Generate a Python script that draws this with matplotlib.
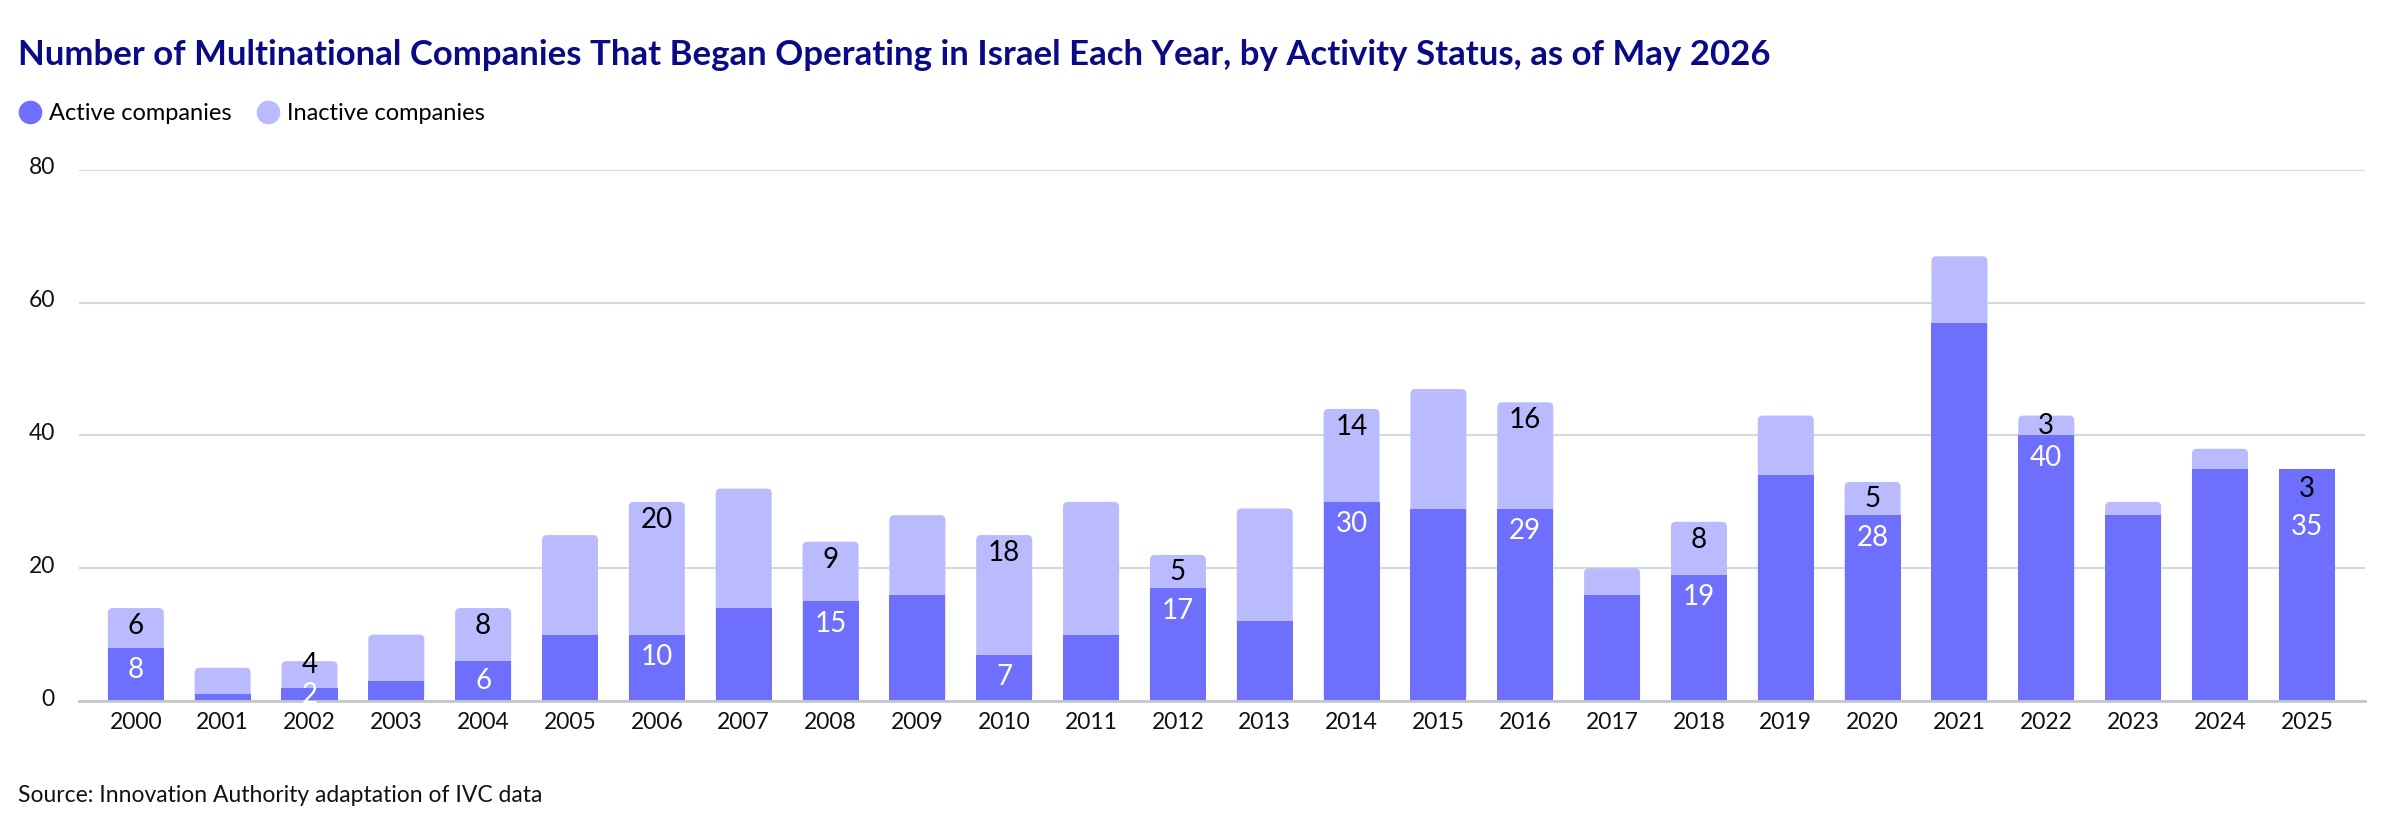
import matplotlib
matplotlib.use("Agg")
import matplotlib.pyplot as plt
from matplotlib.lines import Line2D
from matplotlib.patches import FancyBboxPatch
import matplotlib.transforms as mtransforms

years = [str(y) for y in range(2000, 2026)]
active = [8, 1, 2, 3, 6, 10, 10, 14, 15, 16, 7, 10, 17, 12, 30, 29, 29, 16, 19, 34, 28, 57, 40, 28, 35, 35]
inactive = [6, 4, 4, 7, 8, 15, 20, 18, 9, 12, 18, 20, 5, 17, 14, 18, 16, 4, 8, 9, 5, 10, 3, 2, 3, 0]
# displayed data labels (None = no label shown)
active_labels = ["8", None, "2", None, "6", None, "10", None, "15", None, "7", None, "17", None,
                 "30", None, "29", None, "19", None, "28", None, "40", None, None, "35"]
inactive_labels = ["6", None, "4", None, "8", None, "20", None, "9", None, "18", None, "5", None,
                   "14", None, "16", None, "8", None, "5", None, "3", None, None, "3"]

title = "Number of Multinational Companies That Began Operating in Israel Each Year, by Activity Status, as of May 2026"
source = "Source: Innovation Authority adaptation of IVC data"
series_names = ["Active companies", "Inactive companies"]
yticks = [0, 20, 40, 60, 80]

C_ACTIVE = "#6f6ffe"
C_INACTIVE = "#babaff"
C_TITLE = "#0a0a86"
FONT = ["Lato", "DejaVu Sans"]

plt.rcParams["font.family"] = FONT

fig = plt.figure(figsize=(24, 8.26), dpi=100)
ax = fig.add_axes([78.5 / 2400, 125 / 826, (2365 - 78.5) / 2400, (701 - 170) / 826])

x = list(range(len(years)))
w = 0.645
ax.set_xlim(-0.66, len(years) - 1 + 0.67)
ax.set_ylim(0, 80)

totals = [a + b for a, b in zip(active, inactive)]
top_bars = ax.bar(x, inactive, bottom=active, width=w, color=C_INACTIVE, zorder=3, linewidth=0)
fig.canvas.draw()
px_per_x = ax.transData.transform((1, 0))[0] - ax.transData.transform((0, 0))[0]
px_per_y = ax.transData.transform((0, 1))[1] - ax.transData.transform((0, 0))[1]
r_px = 5.0
for rect in top_bars.patches:
    if rect.get_height() <= 0:
        rect.set_visible(False)
        continue
    x0, y0 = rect.get_x(), rect.get_y()
    rw, rh = rect.get_width(), rect.get_height()
    rect.set_visible(False)
    p = FancyBboxPatch((x0, 0), rw, y0 + rh,
                       boxstyle=f"round,pad=0,rounding_size={r_px / px_per_x}",
                       mutation_aspect=px_per_x / px_per_y,
                       facecolor=C_INACTIVE, edgecolor="none", zorder=3)
    ax.add_patch(p)
ax.bar(x, active, width=w, color=C_ACTIVE, zorder=3.5, linewidth=0)

ax.set_yticks(yticks)
ax.set_xticks(x)
ax.set_xticklabels(years)
ax.yaxis.grid(True, color="#d6d9dc", linewidth=1.5, zorder=0)
ax.set_axisbelow(True)
for s in ["top", "right", "left"]:
    ax.spines[s].set_visible(False)
ax.spines["bottom"].set_color("#c4c8cb")
ax.spines["bottom"].set_linewidth(2)
ax.spines["bottom"].set_zorder(4)
ax.tick_params(axis="both", length=0, labelsize=16.5, colors="#111111")
ax.tick_params(axis="x", pad=8)
ax.tick_params(axis="y", pad=17)
offset = mtransforms.ScaledTranslation(0, 4 / 100, fig.dpi_scale_trans)
for lab in ax.get_yticklabels():
    lab.set_transform(lab.get_transform() + offset)

LBL = 20
MIN_GAP = 4.5  # in data units between stacked labels
for i in x:
    a = active[i]
    t = totals[i]
    iy = None
    ay = None
    if active_labels[i] is not None:
        ay = max(a / 2, a - 3.4)
    if inactive_labels[i] is not None:
        if inactive[i] > 0:
            iy = t - min(2.7, (t - a) / 2)
        else:
            iy = t - 3.0
        if ay is not None and iy - ay < MIN_GAP:
            ay_new = max(iy - 5.8, a / 2 - 0.1)
            ay = ay_new
            if iy - ay < MIN_GAP:
                iy = ay + MIN_GAP
        ax.text(i, iy, inactive_labels[i], ha="center", va="center", fontsize=LBL,
                color="#000000", zorder=5)
    if ay is not None:
        ax.text(i, ay, active_labels[i], ha="center", va="center", fontsize=LBL,
                color="white", zorder=5)

fig.text(18 / 2400, 1 - 55 / 826, title, fontsize=25, fontweight="bold", color=C_TITLE,
         ha="left", va="center")

handles = [Line2D([], [], marker="o", linestyle="none", markersize=16, color=C_ACTIVE),
           Line2D([], [], marker="o", linestyle="none", markersize=16, color=C_INACTIVE)]
fig.legend(handles, series_names, loc="center left", bbox_to_anchor=(18 / 2400, 1 - 114 / 826),
           frameon=False, fontsize=17, handletextpad=0.3, columnspacing=1.05, ncol=2,
           handlelength=1.0, borderaxespad=0, borderpad=0)

fig.text(18 / 2400, 1 - 796 / 826, source, fontsize=16.5, color="#111111", ha="left", va="center")

fig.savefig("out.png", dpi=100)
